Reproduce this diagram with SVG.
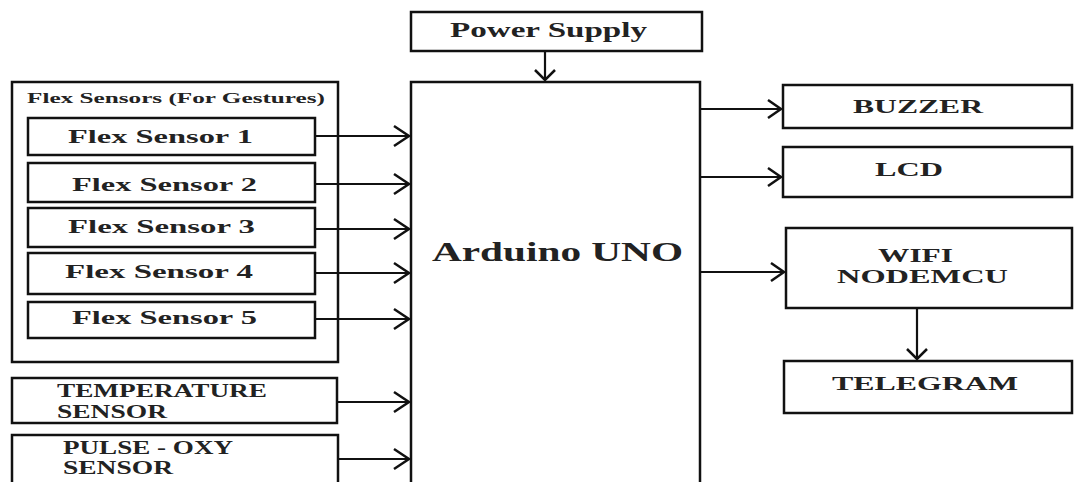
<svg xmlns="http://www.w3.org/2000/svg" width="1074" height="482" viewBox="0 0 1074 482">
<style>
.box{fill:#fff;stroke:#111;stroke-width:2.5}
.t{font-family:"Liberation Serif","Times New Roman",serif;font-weight:bold;fill:#222}
.c{stroke:#111;stroke-width:2.2;fill:none}
.h{stroke:#111;stroke-width:2.5;fill:none;stroke-linejoin:miter}
</style>
<rect width="1074" height="482" fill="#fff"/>
<g id="power-supply">
<rect class="box" x="411" y="12" width="291" height="39"/>
<text class="t" x="450" y="37" font-size="21" textLength="197" lengthAdjust="spacingAndGlyphs">Power Supply</text>
</g>
<g id="arduino">
<rect class="box" x="411" y="82" width="289" height="410"/>
<text class="t" x="432" y="261" font-size="27" textLength="251" lengthAdjust="spacingAndGlyphs">Arduino UNO</text>
</g>
<g id="flex-group">
<rect class="box" x="12" y="82" width="326" height="280"/>
<text class="t" x="27" y="103" font-size="14" textLength="298" lengthAdjust="spacingAndGlyphs">Flex Sensors (For Gestures)</text>
</g>
<g id="flex1">
<rect class="box" x="28" y="118" width="287" height="37"/>
<text class="t" x="68" y="143" font-size="19" textLength="185" lengthAdjust="spacingAndGlyphs">Flex Sensor 1</text>
</g>
<g id="flex2">
<rect class="box" x="28" y="163" width="287" height="39"/>
<text class="t" x="72" y="191" font-size="19" textLength="185" lengthAdjust="spacingAndGlyphs">Flex Sensor 2</text>
</g>
<g id="flex3">
<rect class="box" x="28" y="208" width="287" height="39"/>
<text class="t" x="68" y="233" font-size="19" textLength="187" lengthAdjust="spacingAndGlyphs">Flex Sensor 3</text>
</g>
<g id="flex4">
<rect class="box" x="28" y="253" width="287" height="41"/>
<text class="t" x="65" y="278" font-size="19" textLength="188" lengthAdjust="spacingAndGlyphs">Flex Sensor 4</text>
</g>
<g id="flex5">
<rect class="box" x="28" y="302" width="287" height="36"/>
<text class="t" x="72" y="324" font-size="19" textLength="185" lengthAdjust="spacingAndGlyphs">Flex Sensor 5</text>
</g>
<g id="temperature">
<rect class="box" x="12" y="378" width="325" height="45"/>
<text class="t" x="57" y="397" font-size="18" textLength="210" lengthAdjust="spacingAndGlyphs">TEMPERATURE</text>
<text class="t" x="57" y="418" font-size="18" textLength="110" lengthAdjust="spacingAndGlyphs">SENSOR</text>
</g>
<g id="pulse-oxy">
<rect class="box" x="12" y="435" width="326" height="60"/>
<text class="t" x="63" y="454" font-size="18" textLength="170" lengthAdjust="spacingAndGlyphs">PULSE - OXY</text>
<text class="t" x="63" y="474" font-size="18" textLength="110" lengthAdjust="spacingAndGlyphs">SENSOR</text>
</g>
<g id="buzzer">
<rect class="box" x="783" y="85" width="289" height="43"/>
<text class="t" x="853" y="113" font-size="19" textLength="130" lengthAdjust="spacingAndGlyphs">BUZZER</text>
</g>
<g id="lcd">
<rect class="box" x="783" y="147" width="289" height="50"/>
<text class="t" x="875" y="176" font-size="19" textLength="68" lengthAdjust="spacingAndGlyphs">LCD</text>
</g>
<g id="wifi">
<rect class="box" x="786" y="228" width="286" height="80"/>
<text class="t" x="878" y="262" font-size="19" textLength="75" lengthAdjust="spacingAndGlyphs">WIFI</text>
<text class="t" x="837" y="283" font-size="19" textLength="171" lengthAdjust="spacingAndGlyphs">NODEMCU</text>
</g>
<g id="telegram">
<rect class="box" x="784" y="361" width="288" height="52"/>
<text class="t" x="832" y="390" font-size="19" textLength="186" lengthAdjust="spacingAndGlyphs">TELEGRAM</text>
</g>
<g id="connectors">
<path class="c" d="M545 51V80"/><path class="h" d="M535 70L545 80L555 70"/>
<path class="c" d="M315 136H409"/><path class="h" d="M394 126L409 136L394 146"/>
<path class="c" d="M315 184H409"/><path class="h" d="M394 174L409 184L394 194"/>
<path class="c" d="M315 229H409"/><path class="h" d="M394 219L409 229L394 239"/>
<path class="c" d="M315 273H409"/><path class="h" d="M394 263L409 273L394 283"/>
<path class="c" d="M315 319H409"/><path class="h" d="M394 309L409 319L394 329"/>
<path class="c" d="M337 402H409"/><path class="h" d="M394 392L409 402L394 412"/>
<path class="c" d="M338 459H409"/><path class="h" d="M394 449L409 459L394 469"/>
<path class="c" d="M700 109H781"/><path class="h" d="M768 100L781 109L768 118"/>
<path class="c" d="M700 177H781"/><path class="h" d="M768 168L781 177L768 186"/>
<path class="c" d="M700 272H784"/><path class="h" d="M771 263L784 272L771 281"/>
<path class="c" d="M917 308V359"/><path class="h" d="M907 349L917 359L927 349"/>
</g>
</svg>
